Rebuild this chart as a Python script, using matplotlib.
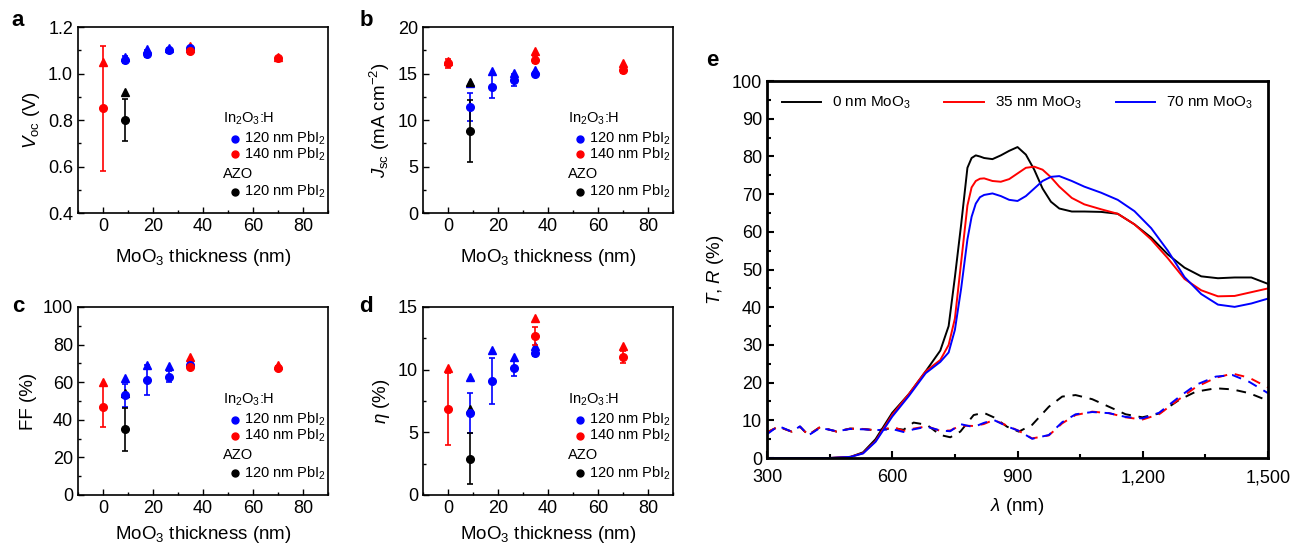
import matplotlib
matplotlib.use('Agg')
import matplotlib.pyplot as plt
from matplotlib.ticker import MultipleLocator, FixedLocator, FormatStrFormatter

plt.rcParams['font.family'] = ['Liberation Sans', 'DejaVu Sans']
plt.rcParams['mathtext.fontset'] = 'custom'
plt.rcParams['mathtext.rm'] = 'Liberation Sans'
plt.rcParams['mathtext.it'] = 'Liberation Sans:italic'
plt.rcParams['mathtext.bf'] = 'Liberation Sans:bold'

# MoO3 thickness (nm)
x_ito = [8.75, 17.5, 26.25, 35]      # In2O3:H, 120 nm PbI2 (blue)
x_ito140 = [0, 35, 70]               # In2O3:H, 140 nm PbI2 (red)
x_azo = [8.75]                       # AZO, 120 nm PbI2 (black)

# Voc (V): mean, error, best
voc_b = [1.06, 1.085, 1.10, 1.11]
voc_b_err = [0.015, 0.015, 0.01, 0.005]
voc_b_best = [1.07, 1.105, 1.11, 1.11]
voc_r = [0.85, 1.095, 1.065]
voc_r_err = [0.27, 0.01, 0.008]
voc_r_best = [1.05, 1.12, 1.07]
voc_k = [0.80]
voc_k_err = [0.09]
voc_k_best = [0.92]

# Jsc (mA cm-2)
jsc_b = [11.4, 13.6, 14.3, 14.95]
jsc_b_err = [1.55, 1.2, 0.6, 0.2]
jsc_b_best = [14.0, 15.3, 15.1, 15.4]
jsc_r = [16.1, 16.5, 15.4]
jsc_r_err = [0.5, 0.4, 0.3]
jsc_r_best = [16.3, 17.4, 16.1]
jsc_k = [8.8]
jsc_k_err = [3.3]
jsc_k_best = [14.1]

# FF (%)
ff_b = [53, 61, 63, 69]
ff_b_err = [6, 8, 3, 1]
ff_b_best = [62, 69, 68.5, 70.5]
ff_r = [47, 68, 67.5]
ff_r_err = [11, 1, 1]
ff_r_best = [60, 73.5, 69]
ff_k = [35]
ff_k_err = [11.5]
ff_k_best = [54]

# efficiency (%)
eta_b = [6.55, 9.1, 10.1, 11.3]
eta_b_err = [1.6, 1.85, 0.6, 0.25]
eta_b_best = [9.4, 11.6, 11.0, 11.85]
eta_r = [6.85, 12.7, 11.0]
eta_r_err = [2.85, 0.7, 0.45]
eta_r_best = [10.1, 14.1, 11.9]
eta_k = [2.9]
eta_k_err = [2.05]
eta_k_best = [6.85]

# panel e: transmittance (solid)
wl_t = [300, 450, 500, 530, 560, 600, 640, 680, 715, 735, 750, 765, 780, 790,
        800, 810, 820, 840, 860, 880, 900, 920, 940, 960, 980, 1000, 1030, 1060,
        1100, 1140, 1180, 1220, 1260, 1300, 1340, 1380, 1420, 1460, 1500]
t_0 = [0, 0, 0.3, 1.5, 5, 12, 17, 23, 28.5, 35, 48, 62, 77, 79.6,
       80.3, 80.0, 79.6, 79.3, 80.3, 81.5, 82.5, 80.5, 76.5, 71.5, 68, 66.2, 65.4, 65.4,
       65.3, 64.8, 62, 58.5, 54, 50.5, 48.2, 47.7, 47.9, 47.9, 46.2]
t_35 = [0, 0, 0.3, 1.3, 4.5, 11.5, 17, 23, 26, 30, 37, 52, 67, 71.8,
        73.5, 74.1, 74.2, 73.5, 73.3, 74, 75.5, 77, 77.3, 76.5, 74.5, 72, 69, 67.3,
        66, 64.8, 62, 58, 53, 47.5, 44.5, 42.9, 43, 44, 45]
t_70 = [0, 0, 0.3, 1.2, 4.3, 11, 16.5, 22.5, 25.5, 28, 34, 45, 58, 64,
        67.5, 69.2, 69.8, 70.2, 69.5, 68.5, 68.2, 69.5, 71.5, 73.5, 74.6, 74.8, 73.5, 72,
        70.4, 68.5, 65.5, 61, 55, 48, 43.5, 40.7, 40.1, 41, 42.3]

# panel e: reflectance (dashed)
wl_r = [300, 327, 359, 379, 399, 427, 467, 499, 531, 563, 579, 603, 627, 651,
        683, 715, 739, 763, 795, 819, 843, 875, 903, 935, 975, 1007, 1039, 1079,
        1119, 1159, 1199, 1239, 1287, 1327, 1375, 1415, 1455, 1500]
r_0 = [6.8, 8.3, 7.0, 8.3, 6.1, 8.2, 7.0, 7.8, 7.7, 7.3, 7.6, 7.9, 7.5, 9.4,
       8.8, 6.1, 5.5, 7.0, 11.4, 12.0, 10.8, 8.3, 7.0, 8.8, 13.6, 16.3, 16.7, 15.6,
       13.6, 11.6, 10.8, 11.8, 15.4, 17.6, 18.5, 18.2, 17.2, 15.2]
r_35 = [6.8, 8.3, 7.0, 8.3, 6.1, 8.2, 7.0, 7.8, 7.7, 7.3, 7.6, 8.2, 7.2, 7.8,
        8.4, 7.2, 7.3, 8.6, 8.5, 9.0, 10.1, 8.6, 7.2, 5.2, 6.0, 9.2, 11.4, 12.3,
        11.9, 10.8, 10.2, 11.6, 15.6, 18.8, 21.3, 22.4, 21.3, 18.7]
r_70 = [6.3, 8.5, 7.0, 8.4, 6.0, 8.0, 7.1, 7.7, 7.6, 7.4, 7.5, 7.6, 6.9, 7.6,
        8.3, 7.3, 7.1, 9.0, 8.2, 9.3, 10.1, 8.4, 7.2, 5.1, 6.1, 9.5, 11.6, 12.2,
        11.9, 10.9, 10.5, 12.0, 16.2, 19.4, 21.6, 22.0, 20.2, 17.2]

BLUE = '#0000ff'
RED = '#ff0000'
BLACK = '#000000'

fig = plt.figure(figsize=(12.93, 5.47), dpi=100)

ax_a = fig.add_axes([0.0603, 0.6106, 0.1933, 0.340])
ax_b = fig.add_axes([0.3271, 0.6106, 0.1933, 0.340])
ax_c = fig.add_axes([0.0603, 0.0951, 0.1933, 0.3437])
ax_d = fig.add_axes([0.3271, 0.0951, 0.1933, 0.3437])
ax_e = fig.add_axes([0.5932, 0.1627, 0.3875, 0.689])


def scatter_panel(ax, data, ylim, ymaj, ymin, ylabel, xpad=9):
    for xs, m, e, best, col in data:
        ax.errorbar(xs, m, yerr=e, fmt='o', color=col, ms=5.5, capsize=2.5,
                    elinewidth=1.2, capthick=1.2, zorder=3)
        ax.plot(xs, best, '^', color=col, ms=6, zorder=3)
    ax.set_xlim(-10, 90)
    ax.set_ylim(*ylim)
    ax.xaxis.set_major_locator(MultipleLocator(20))
    ax.xaxis.set_minor_locator(MultipleLocator(10))
    ax.yaxis.set_major_locator(MultipleLocator(ymaj))
    ax.yaxis.set_minor_locator(MultipleLocator(ymin))
    ax.tick_params(which='both', direction='in', labelsize=13)
    ax.tick_params(which='major', length=4, width=1)
    ax.tick_params(which='minor', length=2.5, width=1)
    for s in ax.spines.values():
        s.set_linewidth(1.2)
    ax.set_xlabel('MoO$_3$ thickness (nm)', fontsize=13.5, labelpad=xpad)
    ax.set_ylabel(ylabel, fontsize=13.5, labelpad=4)

    # legend block
    tr = ax.transAxes
    ax.text(0.58, 0.505, 'In$_2$O$_3$:H', transform=tr, fontsize=10.5, va='center')
    ax.plot([0.628], [0.40], 'o', color=BLUE, ms=5, transform=tr, clip_on=False)
    ax.text(0.665, 0.40, '120 nm PbI$_2$', transform=tr, fontsize=10.5, va='center')
    ax.plot([0.628], [0.315], 'o', color=RED, ms=5, transform=tr, clip_on=False)
    ax.text(0.665, 0.315, '140 nm PbI$_2$', transform=tr, fontsize=10.5, va='center')
    ax.text(0.58, 0.21, 'AZO', transform=tr, fontsize=10.5, va='center')
    ax.plot([0.628], [0.115], 'o', color=BLACK, ms=5, transform=tr, clip_on=False)
    ax.text(0.665, 0.115, '120 nm PbI$_2$', transform=tr, fontsize=10.5, va='center')


scatter_panel(ax_a, [(x_ito, voc_b, voc_b_err, voc_b_best, BLUE),
                     (x_ito140, voc_r, voc_r_err, voc_r_best, RED),
                     (x_azo, voc_k, voc_k_err, voc_k_best, BLACK)],
              (0.4, 1.2), 0.2, 0.1, '$V_{\\rm oc}$ (V)')
ax_a.yaxis.set_major_formatter(FormatStrFormatter('%.1f'))
scatter_panel(ax_b, [(x_ito, jsc_b, jsc_b_err, jsc_b_best, BLUE),
                     (x_ito140, jsc_r, jsc_r_err, jsc_r_best, RED),
                     (x_azo, jsc_k, jsc_k_err, jsc_k_best, BLACK)],
              (0, 20), 5, 2.5, '$J_{\\rm sc}$ (mA cm$^{-2}$)')
scatter_panel(ax_c, [(x_ito, ff_b, ff_b_err, ff_b_best, BLUE),
                     (x_ito140, ff_r, ff_r_err, ff_r_best, RED),
                     (x_azo, ff_k, ff_k_err, ff_k_best, BLACK)],
              (0, 100), 20, 10, 'FF (%)', xpad=5)
scatter_panel(ax_d, [(x_ito, eta_b, eta_b_err, eta_b_best, BLUE),
                     (x_ito140, eta_r, eta_r_err, eta_r_best, RED),
                     (x_azo, eta_k, eta_k_err, eta_k_best, BLACK)],
              (0, 15), 5, 2.5, '$\\eta$ (%)', xpad=5)

# panel e
ax_e.plot(wl_r, r_0, '--', color=BLACK, lw=1.4, dashes=(5, 4))
ax_e.plot(wl_r, r_35, '--', color=RED, lw=1.4, dashes=(5, 4))
ax_e.plot(wl_r, r_70, '--', color=BLUE, lw=1.4, dashes=(5, 4))
ax_e.plot(wl_t, t_0, '-', color=BLACK, lw=1.4, label='0 nm MoO$_3$')
ax_e.plot(wl_t, t_35, '-', color=RED, lw=1.4, label='35 nm MoO$_3$')
ax_e.plot(wl_t, t_70, '-', color=BLUE, lw=1.4, label='70 nm MoO$_3$')
ax_e.set_xlim(300, 1500)
ax_e.set_ylim(0, 100)
ax_e.xaxis.set_major_locator(FixedLocator([300, 600, 900, 1200, 1500]))
ax_e.set_xticklabels(['300', '600', '900', '1,200', '1,500'])
ax_e.xaxis.set_minor_locator(MultipleLocator(150))
ax_e.yaxis.set_major_locator(MultipleLocator(10))
ax_e.yaxis.set_minor_locator(MultipleLocator(5))
ax_e.tick_params(which='both', direction='in', labelsize=13)
ax_e.tick_params(which='major', length=5, width=1.5)
ax_e.tick_params(which='minor', length=3, width=1.5)
ax_e.tick_params(axis='x', pad=8)
for s in ax_e.spines.values():
    s.set_linewidth(2)
ax_e.set_xlabel('$\\lambda$ (nm)', fontsize=13.5, labelpad=7)
ax_e.set_ylabel('$T$, $R$ (%)', fontsize=13.5, labelpad=4)
ax_e.legend(loc='upper center', ncol=3, frameon=False, fontsize=11,
            handlelength=2.6, columnspacing=2.2, handletextpad=0.7,
            bbox_to_anchor=(0.5, 1.0))

for lbl, (px, py) in zip('abcde', [(18, 20), (366, 20), (18, 307), (366, 307), (712, 60)]):
    fig.text(px / 1293, 1 - py / 547, lbl, fontsize=16, fontweight='bold',
             ha='center', va='center')

fig.savefig('out.png', dpi=100)
